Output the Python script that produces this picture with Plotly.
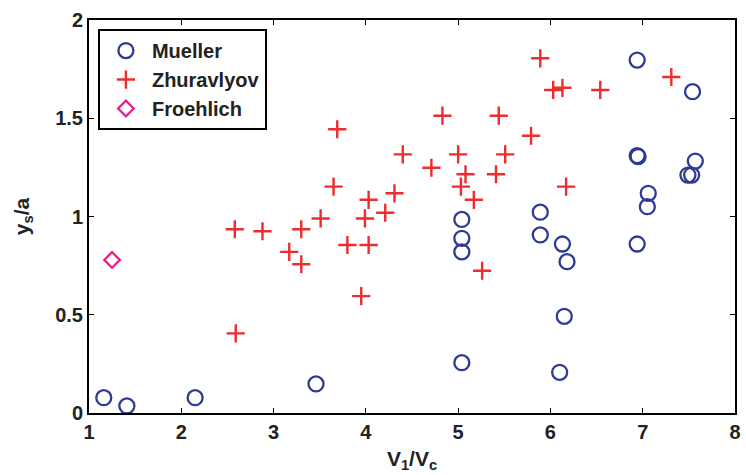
import plotly.graph_objects as go

# Mueller measurements
mueller_x = [1.16, 1.41, 2.15, 3.46, 5.04, 5.04, 5.04, 5.04, 5.89, 5.89, 6.13, 6.18,
             6.15, 6.10, 6.94, 6.94, 6.95, 6.94, 7.06, 7.05, 7.54, 7.57, 7.49, 7.53]
mueller_y = [0.078, 0.036, 0.078, 0.148, 0.985, 0.889, 0.820, 0.256, 1.022, 0.906, 0.860, 0.770,
             0.492, 0.207, 1.796, 1.310, 1.305, 0.860, 1.118, 1.050, 1.635, 1.282, 1.211, 1.211]

# Zhuravlyov measurements
zhur_x = [2.58, 2.88, 3.30, 3.17, 3.30, 2.59, 3.51, 3.65, 3.69, 3.80, 3.95, 3.99,
          4.03, 4.03, 4.21, 4.31, 4.40, 4.71, 4.83, 5.00, 5.03, 5.08, 5.17, 5.26,
          5.41, 5.44, 5.51, 5.79, 5.89, 6.03, 6.13, 6.17, 6.54, 7.31]
zhur_y = [0.935, 0.925, 0.935, 0.820, 0.757, 0.405, 0.990, 1.152, 1.444, 0.855, 0.595, 0.990,
          0.855, 1.085, 1.019, 1.118, 1.316, 1.248, 1.513, 1.316, 1.152, 1.215, 1.085, 0.724,
          1.215, 1.513, 1.316, 1.411, 1.805, 1.644, 1.655, 1.152, 1.644, 1.710]

# Froehlich measurement
froe_x = [1.25]
froe_y = [0.779]

x_ticks = [1, 2, 3, 4, 5, 6, 7, 8]
y_ticks = [0, 0.5, 1, 1.5, 2]
y_ticklabels = ["0", "0.5", "1", "1.5", "2"]

FONT = "Liberation Sans"
TEXT = "#222222"

fig = go.Figure()
fig.add_trace(go.Scatter(
    x=mueller_x, y=mueller_y, mode="markers", name="<b>Mueller</b>", legendgroup="a",
    marker=dict(symbol="circle-open", size=15, color="#2E3A94", line=dict(width=2.3, color="#2E3A94")),
))
fig.add_trace(go.Scatter(
    x=zhur_x, y=zhur_y, mode="markers", name="<b>Zhuravlyov</b>", legendgroup="b",
    marker=dict(symbol="cross-thin-open", size=13, color="#EE2B2E", line=dict(width=2.4, color="#EE2B2E")),
))
fig.add_trace(go.Scatter(
    x=froe_x, y=froe_y, mode="markers", name="<b>Froehlich</b>", legendgroup="c",
    marker=dict(symbol="diamond-open", size=12, color="#E5228C", line=dict(width=2.3, color="#E5228C")),
))

axis_common = dict(
    showline=True, linecolor="black", linewidth=2, mirror="ticks",
    ticks="inside", ticklen=5, tickwidth=1, tickcolor="black",
    showgrid=False, zeroline=False,
    tickfont=dict(family=FONT, size=20, color=TEXT),
)

fig.update_xaxes(
    range=[1, 8], tickvals=x_ticks, ticktext=[f"<b>{t}</b>" for t in x_ticks],
    title=dict(text="<b>V<sub>1</sub>/V<sub>c</sub></b>", font=dict(family=FONT, size=21, color=TEXT), standoff=9),
    **axis_common,
)
fig.update_yaxes(
    range=[0, 2], tickvals=y_ticks, ticktext=[f"<b>{t}</b>" for t in y_ticklabels],
    title=dict(text="<b>y<sub>s</sub>/a</b>", font=dict(family=FONT, size=21, color=TEXT), standoff=20),
    **axis_common,
)

fig.update_layout(
    width=746, height=475,
    margin=dict(l=89, r=5, t=20, b=62),
    plot_bgcolor="white", paper_bgcolor="white",
    showlegend=True,
    legend=dict(
        x=0.0138, y=0.977, xanchor="left", yanchor="top",
        bordercolor="black", borderwidth=2, bgcolor="white",
        font=dict(family=FONT, size=20, color=TEXT),
        tracegroupgap=0, itemwidth=42, entrywidth=125,
    ),
)

fig.write_html("out.html")
